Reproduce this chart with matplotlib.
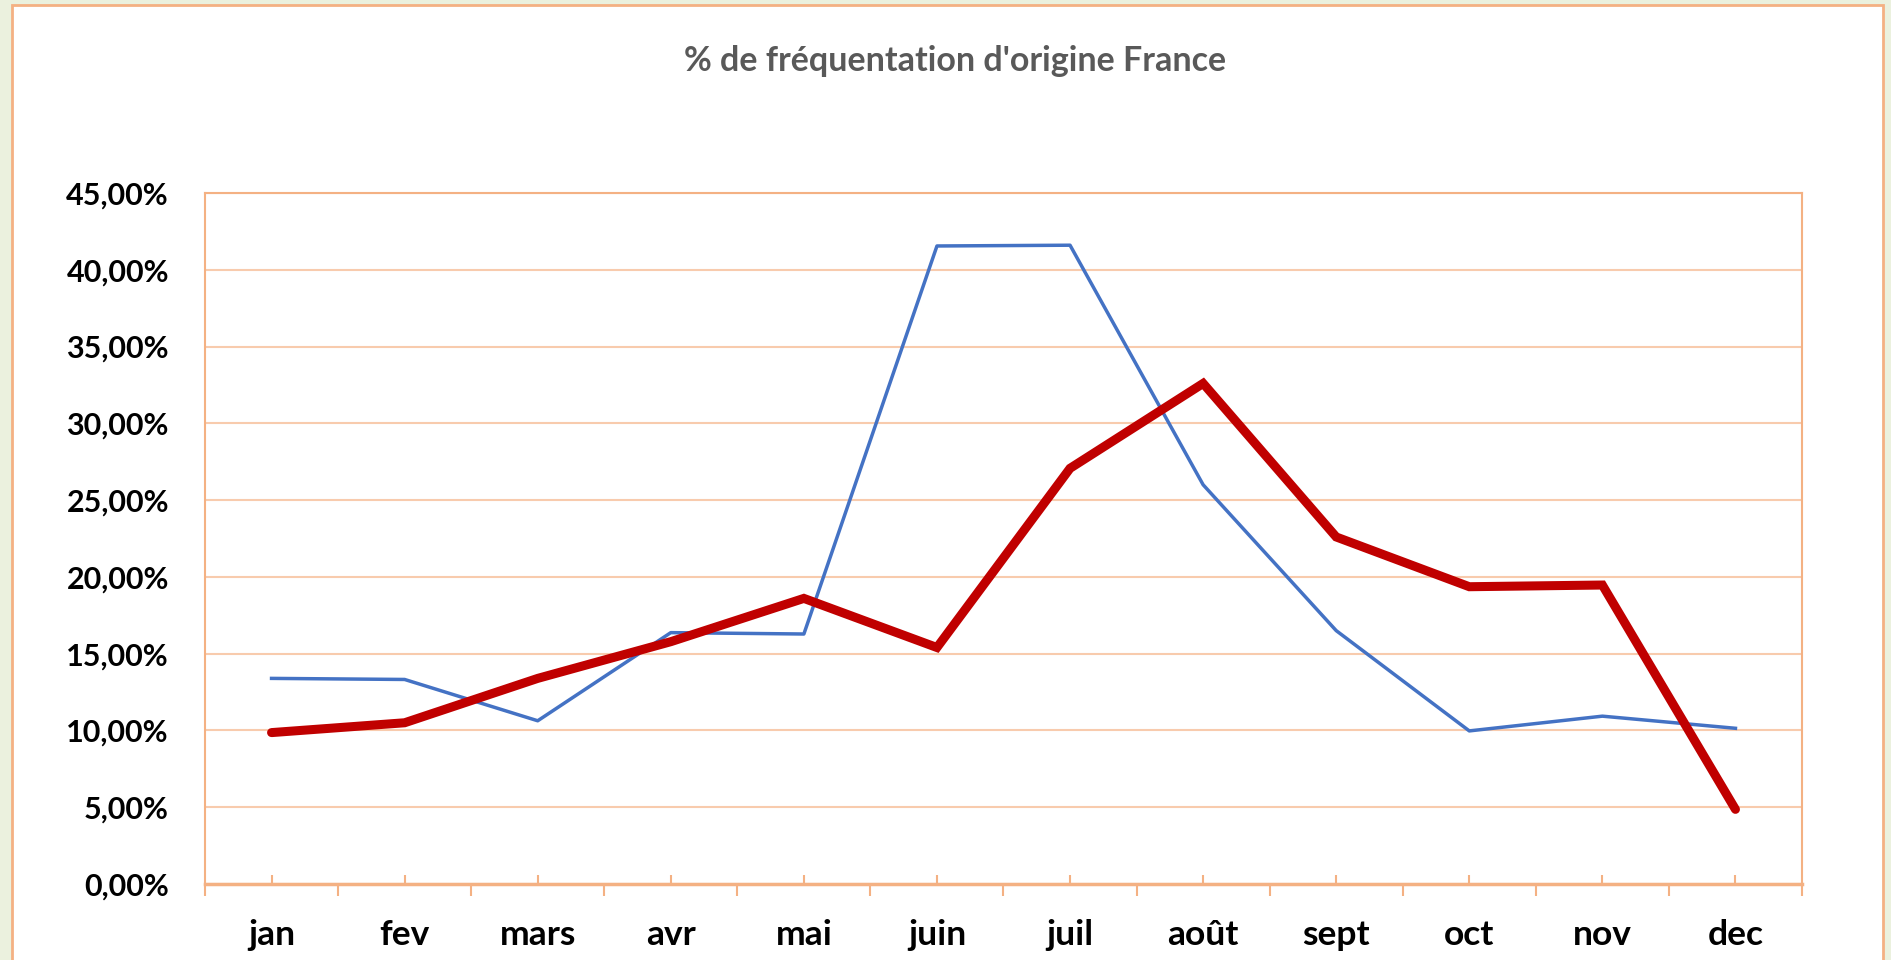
import matplotlib.pyplot as plt
from matplotlib.patches import Rectangle
from matplotlib.ticker import FuncFormatter, FixedLocator
import numpy as np

plt.rcParams['font.family'] = ['Lato', 'DejaVu Sans']

# data
mois = ['jan', 'fev', 'mars', 'avr', 'mai', 'juin', 'juil', 'août', 'sept', 'oct', 'nov', 'dec']
serie_bleue = [13.39, 13.32, 10.63, 16.37, 16.28, 41.55, 41.6, 26.0, 16.5, 9.97, 10.93, 10.14]
serie_rouge = [9.86, 10.5, 13.39, 15.78, 18.6, 15.4, 27.07, 32.6, 22.6, 19.36, 19.47, 4.86]
y_ticks = [0, 5, 10, 15, 20, 25, 30, 35, 40, 45]

orange = '#F4B183'
grid_orange = '#F8CBAD'

fig = plt.figure(figsize=(18.91, 9.60), dpi=100)
fig.patch.set_facecolor('#EBF1DE')

# chart area box
fig.patches.append(Rectangle((12 / 1891, -0.05), (1883 - 12) / 1891, 1.05 - 5 / 960,
                             transform=fig.transFigure, facecolor='white',
                             edgecolor=orange, linewidth=2, zorder=-1))

ax = fig.add_axes([205 / 1891, 76 / 960, (1802 - 205) / 1891, (884 - 193) / 960])
ax.set_zorder(2)
ax.set_facecolor('white')
x = np.arange(len(mois))

ax.plot(x, serie_bleue, color='#4472C4', linewidth=2.5, zorder=3)
ax.plot(x, serie_rouge, color='#C00000', linewidth=6.5, solid_capstyle='round',
        solid_joinstyle='miter', zorder=4)

ax.set_xlim(-0.5, len(mois) - 0.5)
ax.set_ylim(0, 45)
ax.set_yticks(y_ticks)
ax.yaxis.set_major_formatter(FuncFormatter(lambda v, p: f'{v:.2f}%'.replace('.', ',')))
ax.grid(axis='y', color=grid_orange, linewidth=1.5, zorder=1)

ax.set_xticks(x)
ax.set_xticklabels(mois)
ax.xaxis.set_minor_locator(FixedLocator(np.arange(-0.5, len(mois), 1.0)))
ax.tick_params(axis='x', which='major', direction='in', length=6.5, width=1.5,
               color=orange, pad=25, labelsize=25.5)
ax.tick_params(axis='x', which='minor', direction='out', length=8.5, width=1.5,
               color=orange)
ax.tick_params(axis='y', length=0, pad=26, labelsize=22)
for lab in ax.get_xticklabels() + ax.get_yticklabels():
    lab.set_fontweight('bold')

for s in ax.spines.values():
    s.set_color(orange)
    s.set_linewidth(1.5)
ax.spines['bottom'].set_linewidth(2.5)

fig.text(955 / 1891, 1 - 61 / 960, "% de fréquentation d'origine France",
         ha='center', va='center', fontsize=24.5, fontweight='bold', color='#595959')

fig.savefig('out.png', dpi=100, facecolor=fig.get_facecolor())
